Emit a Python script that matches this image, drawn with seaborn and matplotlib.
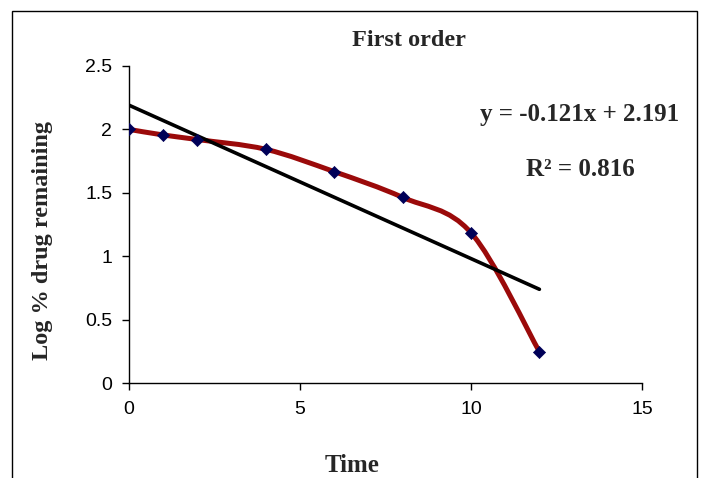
import numpy as np
import matplotlib
matplotlib.use("Agg")
import matplotlib.pyplot as plt
import seaborn as sns
from matplotlib.path import Path
from matplotlib.patches import PathPatch, Rectangle

# ---- data ----
time = [0, 1, 2, 4, 6, 8, 10, 12]
log_drug = [2.00, 1.956, 1.92, 1.843, 1.667, 1.464, 1.185, 0.247]
slope = -0.121
intercept = 2.191
r2 = 0.816
x_ticks = [0, 5, 10, 15]
y_ticks = [0, 0.5, 1, 1.5, 2, 2.5]

sns.set_theme(style="white")
plt.rcParams['font.family'] = ['Liberation Sans', 'DejaVu Sans']

fig = plt.figure(figsize=(7.05, 4.78), dpi=100)
ax = fig.add_axes([129/705, 1-383/478, (642-129)/705, (383-66)/478])

# smooth (Excel-like Catmull-Rom Bezier) line through data
pts = np.column_stack([time, log_drug]).astype(float)
verts = [tuple(pts[0])]
codes = [Path.MOVETO]
n = len(pts)
for i in range(n - 1):
    p0 = pts[max(i - 1, 0)]
    p1 = pts[i]
    p2 = pts[i + 1]
    p3 = pts[min(i + 2, n - 1)]
    c1 = p1 + (p2 - p0) / 6.0
    c2 = p2 - (p3 - p1) / 6.0
    verts += [tuple(c1), tuple(c2), tuple(p2)]
    codes += [Path.CURVE4] * 3
ax.add_patch(PathPatch(Path(verts, codes), facecolor='none',
                       edgecolor='#9b0a0a', lw=3.6, zorder=2,
                       capstyle='round', joinstyle='round'))

# trend line
trend_x = [time[0], time[-1]]
trend_y = [intercept + slope * t for t in trend_x]
sns.lineplot(x=trend_x, y=trend_y, ax=ax, color='black', lw=2.6, zorder=3)

# markers
sns.scatterplot(x=time, y=log_drug, ax=ax, marker='D', s=38,
                color='#000058', edgecolor='#000058', linewidth=0.5, zorder=4)

ax.set_xlim(0, 15)
ax.set_ylim(0, 2.5)
ax.set_xticks(x_ticks)
ax.set_yticks(y_ticks)
ax.set_xticklabels([str(v) for v in x_ticks])
ax.set_yticklabels([f"{v:g}" for v in y_ticks])
ax.tick_params(axis='both', direction='out', length=5, width=1, color='black',
               labelsize=14, labelcolor='black', pad=7, bottom=True, left=True)
ax.tick_params(axis='x', pad=8)
for s in ['top', 'right']:
    ax.spines[s].set_visible(False)
for s in ['left', 'bottom']:
    ax.spines[s].set_color('black')
    ax.spines[s].set_linewidth(1)
ax.grid(False)

serif = ['Liberation Serif', 'DejaVu Serif']
fig.text(409/705, 1-40/478, "First order", ha='center', va='center',
         fontsize=17.5, fontweight='bold', family=serif)
fig.text(352/705, 1-466/478, "Time", ha='center', va='center',
         fontsize=18, fontweight='bold', family=serif)
fig.text(43/705, 1-241/478, "Log % drug remaining", ha='center', va='center',
         rotation=90, fontsize=17.5, fontweight='bold', family=serif)
fig.text(580/705, 1-115/478, f"y = {slope:.3f}x + {intercept:.3f}", ha='center',
         va='center', fontsize=18, fontweight='bold', family=serif)
fig.text(580/705, 1-170/478, f"R² = {r2:.3f}", ha='center', va='center',
         fontsize=18, fontweight='bold', family=serif)

# outer chart border
fig.patches.append(Rectangle((12/705, -0.05), (697-12)/705, 1-11/478+0.05,
                             transform=fig.transFigure, fill=False,
                             edgecolor='black', lw=1.0))

fig.savefig("out.png", dpi=100)
